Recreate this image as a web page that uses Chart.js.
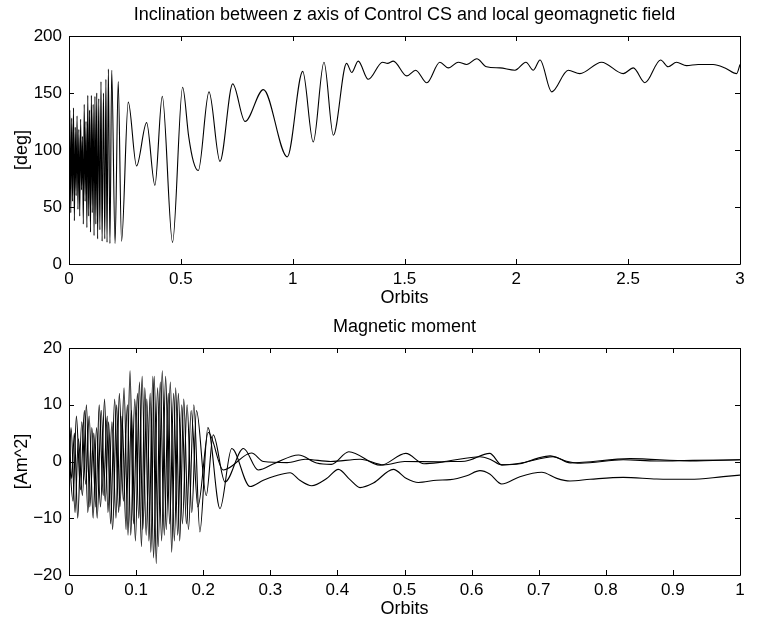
<!DOCTYPE html>
<html>
<head>
<meta charset="utf-8">
<script src="https://cdn.jsdelivr.net/npm/chart.js@4.4.0/dist/chart.umd.min.js"></script>
<style>
  body { margin: 0; background: #fff; }
  canvas { position: absolute; left: 0; }
  #incl-chart { top: 0; }
  #moment-chart { top: 300px; }
</style>
</head>
<body>
<canvas id="incl-chart" width="757" height="312"></canvas>
<canvas id="moment-chart" width="757" height="322"></canvas>
<script>
// inclination of the control z axis vs. local field, [orbit, deg]
const inclination = [
  [0, 100], [0.004, 135], [0.008, 45], [0.012, 128], [0.016, 55], [0.02, 137],
  [0.024, 38], [0.028, 120], [0.032, 60], [0.036, 130], [0.04, 48], [0.044, 118],
  [0.048, 42], [0.052, 127], [0.056, 65], [0.06, 112], [0.064, 35], [0.068, 140],
  [0.072, 55], [0.076, 125], [0.08, 32], [0.084, 148], [0.088, 42], [0.092, 135],
  [0.096, 28], [0.1, 148], [0.104, 45], [0.108, 140], [0.112, 25], [0.116, 147],
  [0.12, 35], [0.124, 150], [0.128, 22], [0.133, 145], [0.138, 30], [0.143, 160],
  [0.148, 20], [0.154, 150], [0.16, 22], [0.165, 162], [0.17, 19], [0.176, 171],
  [0.183, 18], [0.191, 170], [0.206, 18], [0.22, 160], [0.235, 20], [0.265, 142],
  [0.302, 86], [0.347, 124], [0.384, 69], [0.417, 147], [0.463, 19], [0.508, 155],
  [0.535, 112], [0.556, 90], [0.578, 82], [0.626, 151], [0.675, 90], [0.732, 158],
  [0.787, 125], [0.869, 153], [0.976, 94], [1.045, 169], [1.092, 107], [1.14, 177],
  [1.182, 113], [1.241, 176], [1.264, 168], [1.293, 178], [1.338, 162], [1.402, 177],
  [1.424, 176], [1.45, 178], [1.51, 165], [1.55, 170], [1.6, 159], [1.658, 177],
  [1.696, 172], [1.74, 177], [1.778, 175], [1.823, 180], [1.867, 173], [1.927, 172],
  [1.994, 170], [2.043, 177], [2.076, 170], [2.106, 179], [2.158, 151], [2.232, 170],
  [2.284, 167], [2.381, 177], [2.478, 167], [2.523, 172], [2.575, 159], [2.645, 179],
  [2.679, 173], [2.716, 177], [2.761, 174], [2.813, 175], [2.88, 175], [2.933, 172],
  [2.985, 167], [3, 175]
];

// magnetic moment components, [orbit, Am^2]
const momentX = [
  [0, 2], [0.006, -7], [0.011, 8], [0.017, -5], [0.023, 9], [0.028, -9], [0.034, 6],
  [0.04, -8], [0.045, 10], [0.051, -6], [0.057, 8], [0.062, -11], [0.068, 11],
  [0.074, -9], [0.079, 8], [0.085, -12], [0.091, 16], [0.096, -11], [0.102, 12],
  [0.108, -15], [0.113, 13], [0.119, -14], [0.125, 15], [0.13, -18], [0.136, 14],
  [0.142, -13], [0.148, 12], [0.153, -16], [0.159, 13], [0.165, -14], [0.171, 11],
  [0.178, -12], [0.186, 10], [0.195, -12.4], [0.207, 6], [0.225, -8.3], [0.2425, 2.3],
  [0.2697, -4.4], [0.2896, -3.3], [0.307, -2.55], [0.3294, -1.97], [0.344, -3.3],
  [0.3617, -4.26], [0.384, -3.0], [0.4015, -1.38], [0.4188, -3.2], [0.4337, -4.6],
  [0.4536, -3.8], [0.4833, -1.38], [0.503, -3.0], [0.5206, -3.7], [0.548, -3.3],
  [0.568, -3.2], [0.5927, -2.5], [0.6125, -1.6], [0.627, -2.2], [0.6448, -3.96],
  [0.672, -2.67], [0.7045, -1.9], [0.7268, -2.97], [0.7466, -3.43], [0.7765, -3.14],
  [0.826, -2.79], [0.8758, -3.08], [0.9255, -3.14], [0.975, -2.67], [1, -2.4]
];
const momentY = [
  [0, -4], [0.003, 6], [0.009, -9], [0.014, 4], [0.02, -6], [0.026, 10], [0.031, -8],
  [0.037, 5], [0.042, -10], [0.048, 9], [0.054, -7], [0.059, 7], [0.065, -12],
  [0.071, 10], [0.076, -8], [0.082, 13], [0.088, -13], [0.093, 9], [0.099, -14],
  [0.105, 14], [0.11, -12], [0.116, 11], [0.122, -16], [0.127, 15], [0.133, -15],
  [0.139, 16], [0.145, -12], [0.151, 14], [0.157, -14], [0.163, 12], [0.169, -11],
  [0.176, 10], [0.183, -9], [0.19, 9], [0.2045, -6], [0.215, 4.7], [0.2325, -3.6],
  [0.26, 2.3], [0.282, -1.5], [0.307, -0.3], [0.342, 1.14], [0.369, -0.25],
  [0.391, -0.5], [0.417, 1.73], [0.464, -0.67], [0.502, 1.43], [0.529, -0.4],
  [0.569, 0], [0.59, 0.05], [0.627, 1.43], [0.645, -0.6], [0.672, -0.4], [0.699, 0.6],
  [0.717, 1.0], [0.74, 0.1], [0.7625, -0.3], [0.826, 0.3], [0.876, 0.1], [0.93, 0.2],
  [1, 0.3]
];
const momentZ = [
  [0, 7], [0.004, -3], [0.008, 5], [0.013, -10], [0.019, 7], [0.025, -4], [0.03, 8],
  [0.036, -10], [0.041, 6], [0.047, -8], [0.053, 11], [0.058, -9], [0.064, 7],
  [0.07, -10], [0.075, 12], [0.081, -7], [0.087, 10], [0.092, -13], [0.098, 11],
  [0.104, -10], [0.109, 15], [0.115, -13], [0.121, 12], [0.126, -17], [0.132, 13],
  [0.138, -14], [0.144, 15], [0.15, -11], [0.156, 12], [0.162, -13], [0.168, 10],
  [0.175, -11], [0.182, 9], [0.192, -8], [0.2076, 5.1], [0.23, -1.5], [0.272, 1.5],
  [0.29, 0], [0.325, -0.2], [0.352, 0.4], [0.39, 0], [0.434, 0.4], [0.469, -0.6],
  [0.5, 0], [0.55, -0.05], [0.6125, 0.85], [0.6274, 0.4], [0.645, -0.6], [0.672, -0.3],
  [0.722, 0.85], [0.747, -0.25], [0.836, 0.5], [0.9255, 0.1], [1, 0.3]
];

const FONT = "'Liberation Sans', Arial, Helvetica, sans-serif";

// box round the plot with inward tick marks on all four sides
const frame = {
  id: "frame",
  afterDatasetsDraw(chart) {
    const { ctx, chartArea: a, scales } = chart;
    const len = 5;
    ctx.save();
    ctx.strokeStyle = "#000";
    ctx.lineWidth = 1;
    ctx.beginPath();
    ctx.rect(a.left + 0.5, a.top + 0.5, a.right - a.left, a.bottom - a.top);
    scales.x.ticks.forEach((t) => {
      const px = Math.round(scales.x.getPixelForValue(t.value)) + 0.5;
      ctx.moveTo(px, a.bottom);
      ctx.lineTo(px, a.bottom - len);
      ctx.moveTo(px, a.top);
      ctx.lineTo(px, a.top + len);
    });
    scales.y.ticks.forEach((t) => {
      const py = Math.round(scales.y.getPixelForValue(t.value)) + 0.5;
      ctx.moveTo(a.left, py);
      ctx.lineTo(a.left + len, py);
      ctx.moveTo(a.right, py);
      ctx.lineTo(a.right - len, py);
    });
    ctx.stroke();
    ctx.restore();
  },
};

function toPoints(rows) {
  return rows.map(([x, y]) => ({ x: x, y: y }));
}

function line(rows) {
  return {
    data: toPoints(rows),
    borderColor: "#000",
    borderWidth: 1.1,
    pointRadius: 0,
    fill: false,
    cubicInterpolationMode: "monotone",
  };
}

function fmt(v) {
  return String(+v.toFixed(2)).replace("-", "\u2212");
}

function makeChart(canvas, opts) {
  return new Chart(canvas, {
    type: "line",
    data: { datasets: opts.datasets },
    plugins: [frame],
    options: {
      responsive: false,
      animation: false,
      events: [],
      layout: { padding: { left: 0, right: 17, top: 0, bottom: 0 } },
      plugins: {
        legend: { display: false },
        tooltip: { enabled: false },
        title: {
          display: true,
          fullSize: false,
          text: opts.title,
          color: "#000",
          font: { family: FONT, size: 18, weight: "normal" },
          padding: opts.titlePad,
        },
      },
      scales: {
        x: {
          type: "linear",
          min: opts.xMin,
          max: opts.xMax,
          grid: { display: false, drawTicks: false },
          border: { display: false },
          afterFit: (s) => { s.height = opts.xHeight; },
          afterBuildTicks: (s) => {
            s.ticks = opts.xTicks.map((v) => ({ value: v }));
          },
          ticks: {
            color: "#000",
            padding: 5,
            maxRotation: 0,
            autoSkip: false,
            font: { family: FONT, size: 17 },
            callback: fmt,
          },
          title: {
            display: true,
            text: "Orbits",
            color: "#000",
            font: { family: FONT, size: 18 },
            padding: { top: 0, bottom: opts.xTitleBottom },
          },
        },
        y: {
          type: "linear",
          min: opts.yMin,
          max: opts.yMax,
          grid: { display: false, drawTicks: false },
          border: { display: false },
          afterFit: (s) => { s.width = 69; },
          afterBuildTicks: (s) => {
            s.ticks = opts.yTicks.map((v) => ({ value: v }));
          },
          ticks: {
            color: "#000",
            padding: 7,
            autoSkip: false,
            font: { family: FONT, size: 17 },
            callback: fmt,
          },
          title: {
            display: true,
            text: opts.yTitle,
            color: "#000",
            font: { family: FONT, size: 18 },
            padding: { top: 11, bottom: 0 },
          },
        },
      },
    },
  });
}

const inclChart = makeChart(document.querySelector("#incl-chart"), {
  title: "Inclination between z axis of Control CS and local geomagnetic field",
  titlePad: { top: 4, bottom: 10.4 },
  datasets: [line(inclination)],
  xMin: 0, xMax: 3,
  xTicks: [0, 0.5, 1, 1.5, 2, 2.5, 3],
  yMin: 0, yMax: 200,
  yTicks: [0, 50, 100, 150, 200],
  yTitle: "[deg]",
  xHeight: 48,
  xTitleBottom: 2.7,
});

const momentChart = makeChart(document.querySelector("#moment-chart"), {
  title: "Magnetic moment",
  titlePad: { top: 16, bottom: 10.4 },
  datasets: [line(momentX), line(momentY), line(momentZ)],
  xMin: 0, xMax: 1,
  xTicks: [0, 0.1, 0.2, 0.3, 0.4, 0.5, 0.6, 0.7, 0.8, 0.9, 1],
  yMin: -20, yMax: 20,
  yTicks: [-20, -10, 0, 10, 20],
  yTitle: "[Am^2]",
  xHeight: 47,
  xTitleBottom: 1.7,
});
</script>
</body>
</html>
